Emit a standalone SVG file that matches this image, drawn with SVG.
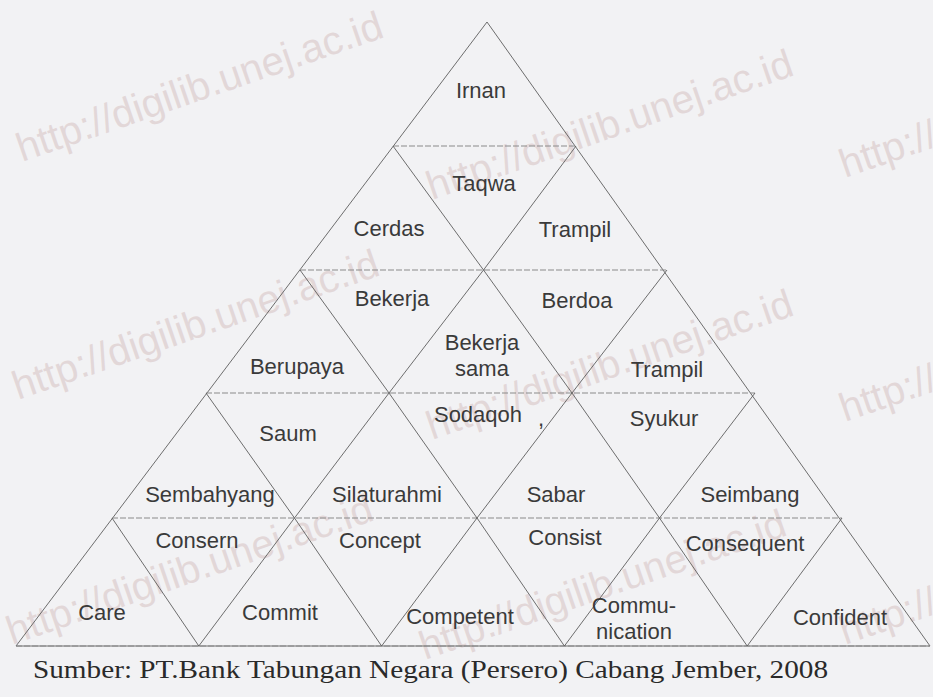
<svg xmlns="http://www.w3.org/2000/svg" xmlns:xlink="http://www.w3.org/1999/xlink" width="933" height="697" viewBox="0 0 933 697">
  <style>
    .bg { fill: #f2f2f4; }
    .lbl { font-family: "Liberation Sans", Arial, sans-serif; font-size: 22px; fill: #3a3a3a; text-anchor: middle; }
    .cell { fill: none; stroke: none; }
    .diag { stroke: #5e5e5e; stroke-width: 0.9; fill: none; }
    .hor { stroke: #8a8a8a; stroke-width: 1; stroke-dasharray: 6 2; fill: none; }
    .wm { font-family: "Liberation Sans", Arial, sans-serif; font-size: 40px; fill: #dccccc; fill-opacity: 0.7; }
    .src { font-family: "Liberation Serif", "Times New Roman", serif; font-size: 26px; fill: #2a2a2a; }
  </style>
  <defs>
    <text id="wm" class="wm">http://digilib.unej.ac.id</text>
  </defs>
  <rect class="bg" x="0" y="0" width="933" height="697"/>

  <g id="watermarks">
    <use xlink:href="#wm" href="#wm" transform="translate(22,162) rotate(-19)"/>
    <use xlink:href="#wm" href="#wm" transform="translate(432,200) rotate(-19)"/>
    <use xlink:href="#wm" href="#wm" transform="translate(845,178) rotate(-19)"/>
    <use xlink:href="#wm" href="#wm" transform="translate(18,400) rotate(-19)"/>
    <use xlink:href="#wm" href="#wm" transform="translate(432,440) rotate(-19)"/>
    <use xlink:href="#wm" href="#wm" transform="translate(845,422) rotate(-19)"/>
    <use xlink:href="#wm" href="#wm" transform="translate(12,645) rotate(-19)"/>
    <use xlink:href="#wm" href="#wm" transform="translate(425,660) rotate(-19)"/>
    <use xlink:href="#wm" href="#wm" transform="translate(845,645) rotate(-19)"/>
  </g>

  <g id="connectors">
    <polygon class="diag" points="487,22 930,646 16,646"/>
    <line class="hor" x1="393" y1="146" x2="576" y2="146"/>
    <line class="hor" x1="300" y1="270" x2="667" y2="270"/>
    <line class="hor" x1="206" y1="393" x2="755" y2="393"/>
    <line class="hor" x1="112" y1="518" x2="842" y2="518"/>
    <line class="hor" x1="16" y1="646" x2="930" y2="646"/>
    <polyline class="diag" points="198.8,646 294.5,518 389,393 483.5,270 576,146"/>
    <polyline class="diag" points="381.6,646 477,518 572,393 667,270"/>
    <polyline class="diag" points="564.4,646 659.5,518 755,393"/>
    <polyline class="diag" points="747.2,646 842,518"/>
    <polyline class="diag" points="198.8,646 112,518"/>
    <polyline class="diag" points="381.6,646 294.5,518 206,393"/>
    <polyline class="diag" points="564.4,646 477,518 389,393 300,270"/>
    <polyline class="diag" points="747.2,646 659.5,518 572,393 483.5,270 393,146"/>
  </g>

  <g id="iman"><polygon class="cell" points="487,22 393,146 576,146"/><text class="lbl" x="481" y="98">Irnan</text></g>

  <g id="cerdas"><polygon class="cell" points="393,146 300,270 483.5,270"/><text class="lbl" x="389" y="236">Cerdas</text></g>
  <g id="taqwa"><polygon class="cell" points="393,146 576,146 483.5,270"/><text class="lbl" x="484" y="191">Taqwa</text></g>
  <g id="trampil1"><polygon class="cell" points="576,146 483.5,270 667,270"/><text class="lbl" x="575" y="237">Trampil</text></g>

  <g id="berupaya"><polygon class="cell" points="300,270 206,393 389,393"/><text class="lbl" x="297" y="374">Berupaya</text></g>
  <g id="bekerja"><polygon class="cell" points="300,270 483.5,270 389,393"/><text class="lbl" x="392" y="306">Bekerja</text></g>
  <g id="bekerja-sama"><polygon class="cell" points="483.5,270 389,393 572,393"/><text class="lbl" x="482" y="350">Bekerja</text><text class="lbl" x="482" y="376">sama</text></g>
  <g id="berdoa"><polygon class="cell" points="483.5,270 667,270 572,393"/><text class="lbl" x="577" y="308">Berdoa</text></g>
  <g id="trampil2"><polygon class="cell" points="667,270 572,393 755,393"/><text class="lbl" x="667" y="377">Trampil</text></g>

  <g id="sembahyang"><polygon class="cell" points="206,393 112,518 294.5,518"/><text class="lbl" x="210" y="502">Sembahyang</text></g>
  <g id="saum"><polygon class="cell" points="206,393 389,393 294.5,518"/><text class="lbl" x="288" y="441">Saum</text></g>
  <g id="silaturahmi"><polygon class="cell" points="389,393 294.5,518 477,518"/><text class="lbl" x="387" y="502">Silaturahmi</text></g>
  <g id="sodaqoh"><polygon class="cell" points="389,393 572,393 477,518"/><text class="lbl" x="478" y="422">Sodaqoh</text><text class="lbl" x="541" y="426">,</text></g>
  <g id="sabar"><polygon class="cell" points="572,393 477,518 659.5,518"/><text class="lbl" x="556" y="502">Sabar</text></g>
  <g id="syukur"><polygon class="cell" points="572,393 755,393 659.5,518"/><text class="lbl" x="664" y="426">Syukur</text></g>
  <g id="seimbang"><polygon class="cell" points="755,393 659.5,518 842,518"/><text class="lbl" x="750" y="502">Seimbang</text></g>

  <g id="care"><polygon class="cell" points="112,518 16,646 198.8,646"/><text class="lbl" x="102" y="620">Care</text></g>
  <g id="consern"><polygon class="cell" points="112,518 294.5,518 198.8,646"/><text class="lbl" x="197" y="548">Consern</text></g>
  <g id="commit"><polygon class="cell" points="294.5,518 198.8,646 381.6,646"/><text class="lbl" x="280" y="620">Commit</text></g>
  <g id="concept"><polygon class="cell" points="294.5,518 477,518 381.6,646"/><text class="lbl" x="380" y="548">Concept</text></g>
  <g id="competent"><polygon class="cell" points="477,518 381.6,646 564.4,646"/><text class="lbl" x="460" y="624">Competent</text></g>
  <g id="consist"><polygon class="cell" points="477,518 659.5,518 564.4,646"/><text class="lbl" x="565" y="545">Consist</text></g>
  <g id="communication"><polygon class="cell" points="659.5,518 564.4,646 747.2,646"/><text class="lbl" x="634" y="613">Commu-</text><text class="lbl" x="634" y="639">nication</text></g>
  <g id="consequent"><polygon class="cell" points="659.5,518 842,518 747.2,646"/><text class="lbl" x="745" y="551">Consequent</text></g>
  <g id="confident"><polygon class="cell" points="842,518 747.2,646 930,646"/><text class="lbl" x="840" y="625">Confident</text></g>

  <text class="src" x="33" y="678" textLength="795" lengthAdjust="spacingAndGlyphs">Sumber: PT.Bank Tabungan Negara (Persero) Cabang Jember, 2008</text>
</svg>
